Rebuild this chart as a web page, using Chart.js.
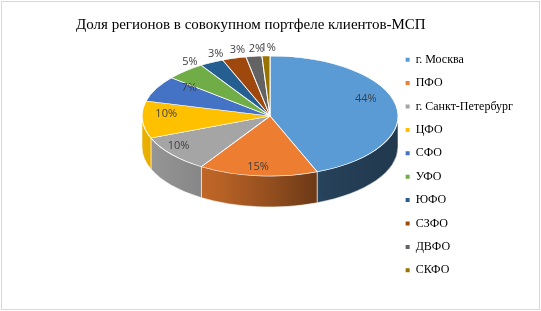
<!DOCTYPE html>
<html>
<head>
<meta charset="utf-8">
<script src="https://cdn.jsdelivr.net/npm/chart.js@4.4.1/dist/chart.umd.min.js"></script>
<style>
    html, body { margin: 0; padding: 0; background: #fff; }
    canvas { display: block; }
</style>
</head>
<body>
<canvas id="chart_canvas" width="541" height="311"></canvas>
<script>
const chartTitle = 'Доля регионов в совокупном портфеле клиентов-МСП';
const regions = ['г. Москва', 'ПФО', 'г. Санкт-Петербург', 'ЦФО', 'СФО', 'УФО', 'ЮФО', 'СЗФО', 'ДВФО', 'СКФО'];
const shares = [44, 15, 10, 10, 7, 5, 3, 3, 2, 1];
const palette = ['#5B9BD5', '#ED7D31', '#A5A5A5', '#FFC000', '#4472C4', '#70AD47', '#255E91', '#9E480E', '#636363', '#997300'];

// where the tilted pie sits on the canvas
const pie3d = {cx: 270, cy: 116, rx: 128, ry: 60, depth: 31};
// darkening of the side wall from left to right
const sideStops = [[0, 0.92], [0.3, 0.78], [0.5, 0.62], [0.72, 0.42], [1, 0.36]];

function shade(hex, f) {
    const n = parseInt(hex.slice(1), 16);
    const r = Math.round(((n >> 16) & 255) * f);
    const g = Math.round(((n >> 8) & 255) * f);
    const b = Math.round((n & 255) * f);
    return 'rgb(' + r + ',' + g + ',' + b + ')';
}

const frame = {
    id: 'frame',
    beforeDraw(chart) {
        const ctx = chart.ctx;
        ctx.save();
        ctx.fillStyle = '#fff';
        ctx.fillRect(0, 0, chart.width, chart.height);
        ctx.strokeStyle = '#d9d9d9';
        ctx.lineWidth = 1;
        ctx.strokeRect(1.5, 1.5, 538, 308);
        ctx.restore();
    }
};

const pie3dPlugin = {
    id: 'pie3d',
    beforeDatasetsDraw(chart) {
        const ctx = chart.ctx, p = pie3d;
        const arcs = chart.getDatasetMeta(0).data;
        ctx.save();
        arcs.forEach((arc, i) => {
            const a = Math.max(arc.startAngle, 0);
            const b = Math.min(arc.endAngle, Math.PI);
            if (b <= a) return;
            const grad = ctx.createLinearGradient(p.cx - p.rx, 0, p.cx + p.rx, 0);
            sideStops.forEach(([o, f]) => grad.addColorStop(o, shade(palette[i], f)));
            ctx.beginPath();
            ctx.ellipse(p.cx, p.cy, p.rx, p.ry, 0, a, b);
            ctx.ellipse(p.cx, p.cy + p.depth, p.rx, p.ry, 0, b, a, true);
            ctx.closePath();
            ctx.fillStyle = grad;
            ctx.fill();
            ctx.strokeStyle = 'rgba(255,255,255,0.55)';
            ctx.lineWidth = 1;
            ctx.stroke();
        });
        ctx.restore();

        // squash the round pie into the tilted top face
        const arc0 = arcs[0];
        ctx.save();
        ctx.translate(p.cx, p.cy);
        ctx.scale(p.rx / arc0.outerRadius, p.ry / arc0.outerRadius);
        ctx.translate(-arc0.x, -arc0.y);
    },
    afterDatasetsDraw(chart) {
        const ctx = chart.ctx, p = pie3d;
        ctx.restore();
        const arcs = chart.getDatasetMeta(0).data;
        ctx.save();
        ctx.font = '11px "Open Sans"';
        ctx.fillStyle = '#404040';
        ctx.textAlign = 'center';
        ctx.textBaseline = 'middle';
        arcs.forEach((arc, i) => {
            const mid = (arc.startAngle + arc.endAngle) / 2;
            const c = Math.cos(mid), s = Math.sin(mid);
            let x, y;
            if (shares[i] >= 6) {
                // front labels sit further out, as in the perspective view
                x = p.cx + p.rx * (0.8 + 0.2 * s) * c;
                y = p.cy - 6 + p.ry * 0.95 * s + 10 * Math.max(0, -s) * Math.max(0, -c);
            } else {
                x = p.cx + p.rx * 0.97 * c + 2;
                y = p.cy + p.ry * 0.9 * s - 14;
            }
            ctx.fillText(shares[i] + '%', x, y);
        });
        ctx.restore();
    }
};

const ctx = document.getElementById('chart_canvas');
new Chart(ctx, {
    type: 'pie',
    data: {
        labels: regions,
        datasets: [{
            data: shares,
            backgroundColor: palette,
            borderColor: '#ffffff',
            borderWidth: 1,
            clip: false
        }]
    },
    options: {
        responsive: false,
        animation: false,
        layout: {padding: {left: 76, right: 18, top: 16, bottom: -3}},
        plugins: {
            title: {
                display: true,
                text: chartTitle,
                align: 'start',
                color: '#000',
                font: {family: '"Liberation Serif"', size: 15, weight: 'normal'},
                padding: {top: 0, bottom: 25}
            },
            legend: {
                position: 'right',
                labels: {
                    boxWidth: 4,
                    boxHeight: 4,
                    padding: 11.4,
                    color: '#000',
                    font: {family: '"Liberation Serif"', size: 12},
                    generateLabels(chart) {
                        const items = Chart.overrides.doughnut.plugins.legend.labels.generateLabels(chart);
                        items.forEach(it => { it.lineWidth = 0; });
                        return items;
                    }
                }
            },
            tooltip: {enabled: false}
        }
    },
    plugins: [frame, pie3dPlugin]
});
</script>
</body>
</html>
